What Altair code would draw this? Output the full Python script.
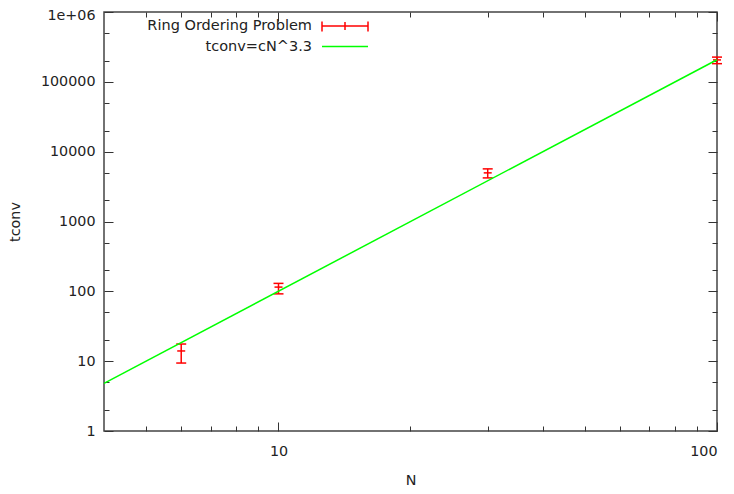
import altair as alt
import pandas as pd

# ---- data ----
N = [6, 10, 30, 100]
t_mean = [14, 115, 4970, 206000]
t_low = [9.4, 92, 4210, 182000]
t_high = [17.6, 130, 5670, 226000]

fit_N = [4, 100]
fit_t = [4.82, 207000]

x_labels = [10, 100]
x_ticks = [5, 6, 7, 8, 9, 10, 20, 30, 40, 50, 60, 70, 80, 90, 100]
y_labels = [1, 10, 100, 1000, 10000, 100000, 1000000]
y_ticks = [1, 2, 5, 10, 20, 50, 100, 200, 500, 1000, 2000, 5000, 10000,
           20000, 50000, 100000, 200000, 500000, 1000000]

legend_labels = ["Ring Ordering Problem", "tconv=cN^3.3"]

W, H = 613, 419
FONT = "DejaVu Sans"
FS = 14.3
TXT = "#222222"
RED = "#ff0000"
GREEN = "#00ff00"

err = pd.DataFrame({"N": N, "t": t_mean, "lo": t_low, "hi": t_high})
fit = pd.DataFrame({"N": fit_N, "t": fit_t})
one = pd.DataFrame({"k": [0]})

xs = alt.Scale(type="log", domain=[4, 100], nice=False)
ys = alt.Scale(type="log", domain=[1, 1000000], nice=False)


def tick_size(majors):
    return {"condition": {"test": f"indexof({majors}, datum.value) >= 0", "value": 9}, "value": 5}


def tick_axis(orient, values, majors, offset):
    return alt.Axis(orient=orient, offset=offset, values=values, labels=False,
                    domain=False, grid=False, title=None,
                    tickSize=tick_size(majors), tickColor="#333333", tickWidth=1)


bars = alt.Chart(err).mark_rule(color=RED, strokeWidth=1.5).encode(
    x=alt.X("N:Q", scale=xs,
            axis=alt.Axis(orient="bottom", values=x_labels, format="d", tickSize=0,
                          domain=False, grid=False, labelPadding=13,
                          title="N", titlePadding=15)),
    y=alt.Y("lo:Q", scale=ys,
            axis=alt.Axis(orient="left", values=y_labels,
                          labelExpr="datum.value >= 1000000 ? '1e+06' : format(datum.value, 'd')",
                          labelOffset={"condition": {"test": "datum.value >= 1000000", "value": 3}, "value": 0},
                          tickSize=0, domain=False, grid=False, labelPadding=9,
                          title="tconv", titlePadding=18)),
    y2="hi:Q",
)

CAP = "M-1,0H1"

caps_lo = alt.Chart(err).mark_point(shape=CAP, size=100, filled=False, color=RED,
                                    strokeWidth=1.5, opacity=1).encode(
    x=alt.X("N:Q", scale=xs, axis=tick_axis("top", x_ticks, x_labels, -H)),
    y=alt.Y("lo:Q", scale=ys, axis=tick_axis("right", y_ticks, y_labels, -W)),
)

caps_hi = alt.Chart(err).mark_point(shape=CAP, size=100, filled=False, color=RED,
                                    strokeWidth=1.5, opacity=1).encode(
    x=alt.X("N:Q", scale=xs, axis=tick_axis("bottom", x_ticks, x_labels, -H)),
    y=alt.Y("hi:Q", scale=ys, axis=tick_axis("left", y_ticks, y_labels, -W)),
)

mid = alt.Chart(err).mark_point(shape=CAP, size=64, filled=False, color=RED,
                                strokeWidth=1.5, opacity=1).encode(
    x=alt.X("N:Q", scale=xs, axis=None),
    y=alt.Y("t:Q", scale=ys, axis=None),
)

line = alt.Chart(fit).mark_line(color=GREEN, strokeWidth=1.5).encode(
    x=alt.X("N:Q", scale=xs, axis=None),
    y=alt.Y("t:Q", scale=ys, axis=None),
)

# ---- legend (gnuplot style: label right-aligned, sample to its right) ----
leg_text1 = alt.Chart(one).mark_text(align="right", baseline="middle", font=FONT,
                                     fontSize=14.5, color=TXT).encode(
    x=alt.value(208), y=alt.value(14), text=alt.value(legend_labels[0]))
leg_text2 = alt.Chart(one).mark_text(align="right", baseline="middle", font=FONT,
                                     fontSize=14.5, color=TXT).encode(
    x=alt.value(208), y=alt.value(34.5), text=alt.value(legend_labels[1]))
leg_red = alt.Chart(one).mark_rule(color=RED, strokeWidth=1.5).encode(
    x=alt.value(218), x2=alt.value(264), y=alt.value(14))
leg_red_c1 = alt.Chart(one).mark_rule(color=RED, strokeWidth=1.5).encode(
    x=alt.value(218), y=alt.value(9.5), y2=alt.value(19.5))
leg_red_c2 = alt.Chart(one).mark_rule(color=RED, strokeWidth=1.5).encode(
    x=alt.value(241), y=alt.value(10), y2=alt.value(18))
leg_red_c3 = alt.Chart(one).mark_rule(color=RED, strokeWidth=1.5).encode(
    x=alt.value(264), y=alt.value(9.5), y2=alt.value(19.5))
leg_green = alt.Chart(one).mark_rule(color=GREEN, strokeWidth=1.5).encode(
    x=alt.value(218), x2=alt.value(264), y=alt.value(34.5))

chart = alt.layer(
    bars, caps_lo, caps_hi, mid, line,
    leg_text1, leg_text2, leg_red, leg_red_c1, leg_red_c2, leg_red_c3, leg_green,
).resolve_scale(x="shared", y="shared").resolve_axis(
    x="independent", y="independent"
).properties(
    width=W, height=H,
    autosize=alt.AutoSizeParams(type="none"),
    padding={"left": 96, "top": 4, "right": 9, "bottom": 62},
).configure_axis(
    labelFont=FONT, titleFont=FONT, labelFontSize=FS, titleFontSize=FS,
    labelColor=TXT, titleColor=TXT, titleFontWeight="normal",
).configure_view(
    stroke="#444444", strokeWidth=1.5,
)

chart.save("out.html", embed_options={"renderer": "svg", "actions": False})
